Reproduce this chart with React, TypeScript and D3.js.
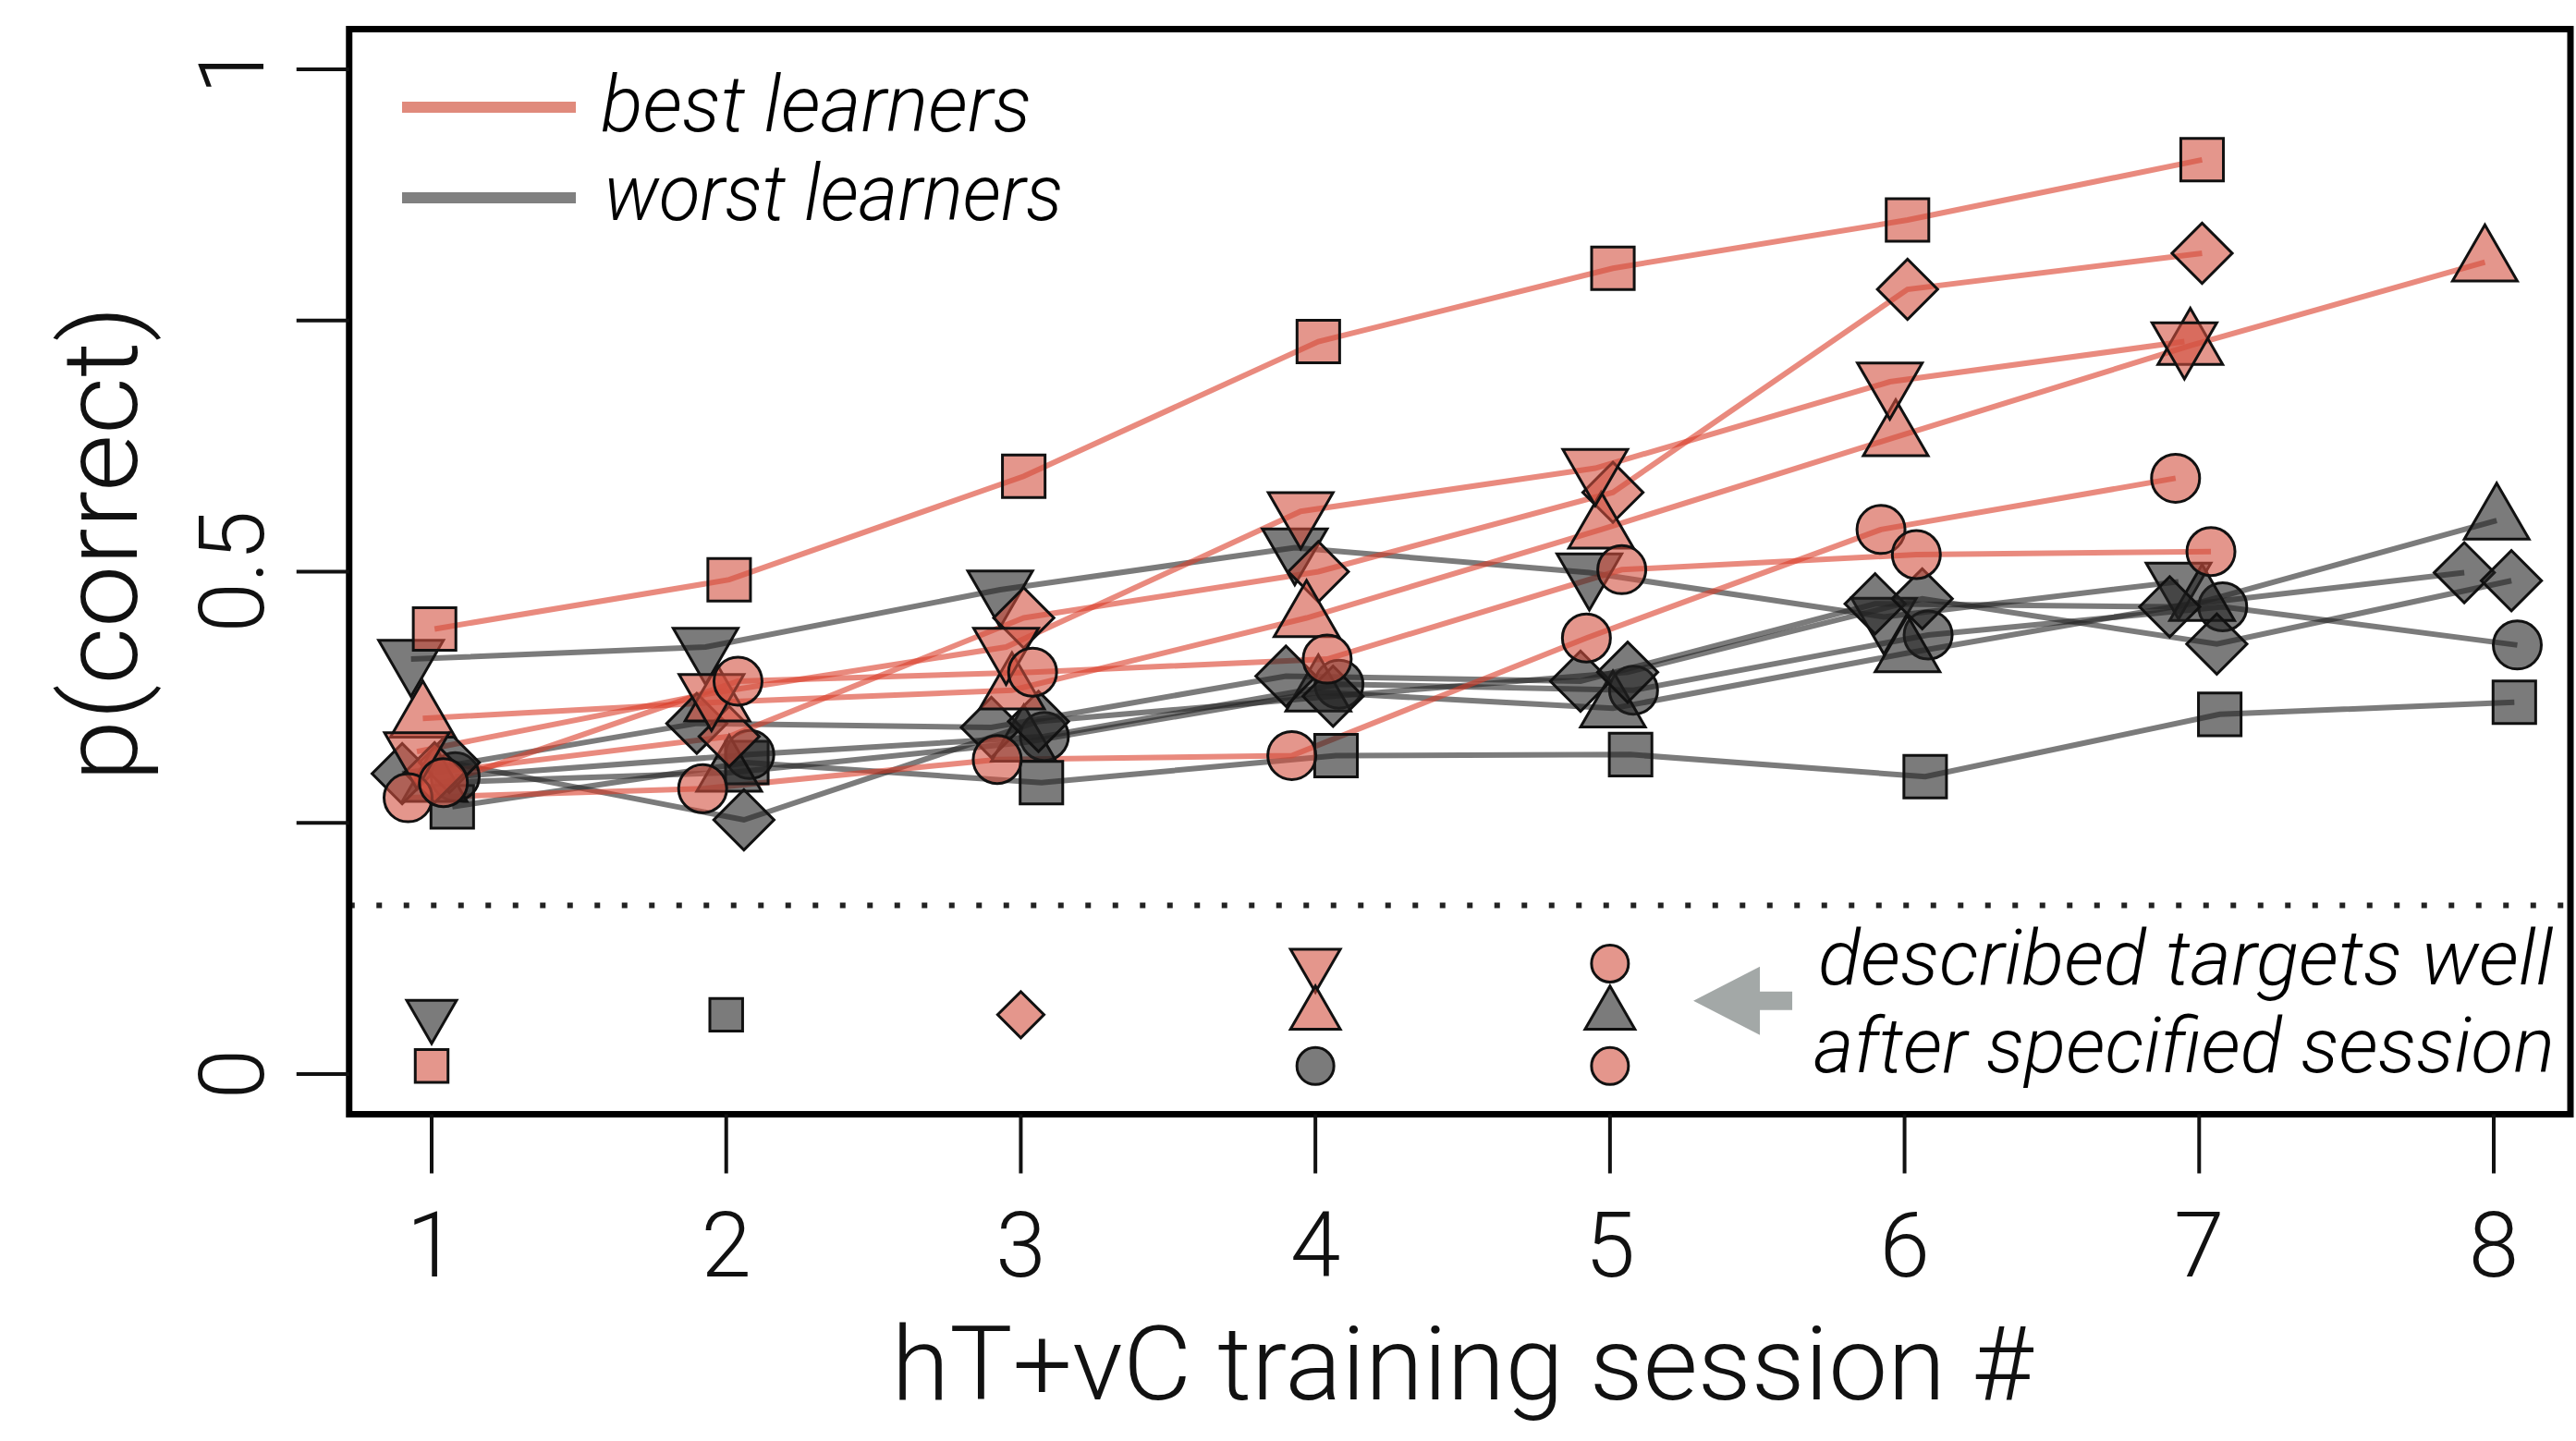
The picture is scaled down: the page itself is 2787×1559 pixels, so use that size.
import React from "react";
import * as d3 from "d3";

// sessions on the x axis
const sessions = [1, 2, 3, 4, 5, 6, 7, 8];

// p(correct) per session, best learners (red)
const bestSquare = [0.443, 0.492, 0.595, 0.729, 0.802, 0.85, 0.91];
const bestDiamond = [0.3, 0.336, 0.454, 0.5, 0.579, 0.781, 0.817];
const bestTriUp = [0.354, 0.37, 0.382, 0.454, 0.542, 0.634, 0.725, 0.808];
const bestTriDown = [0.321, 0.379, 0.425, 0.56, 0.603, 0.689, 0.729];
const bestCircleA = [0.275, 0.284, 0.313, 0.317, 0.434, 0.542, 0.593];
const bestCircleB = [0.29, 0.391, 0.4, 0.413, 0.502, 0.517, 0.52];

// p(correct) per session, worst learners (gray)
const worstTriDown = [0.413, 0.425, 0.482, 0.524, 0.499, 0.455, 0.49];
const worstSquare = [0.266, 0.31, 0.29, 0.317, 0.318, 0.296, 0.358, 0.37];
const worstCircle = [0.296, 0.318, 0.336, 0.388, 0.382, 0.437, 0.465, 0.427];
const worstTriUp = [0.29, 0.3, 0.33, 0.38, 0.364, 0.419, 0.47, 0.551];
const worstDiamondA = [0.299, 0.349, 0.345, 0.396, 0.391, 0.468, 0.465, 0.499];
const worstDiamondB = [0.31, 0.253, 0.351, 0.376, 0.4, 0.473, 0.428, 0.491];

// horizontal jitter of each learner, in session units
const bestJitter = [0.01, 0.01, -0.03, -0.05, -0.08, 0.04];
const worstJitter = [-0.07, 0.07, 0.08, 0.01, -0.1, 0.06];

// "described targets well after specified session" markers
const doneSession = [1, 1, 2, 3, 4, 4, 4, 5, 5, 5];
const doneGroup = ["worst", "best", "worst", "best", "best", "best", "worst", "best", "worst", "best"];
const doneShape = ["triDown", "square", "square", "diamond", "triDown", "triUp", "circle", "circle", "triUp", "circle"];
const doneValue = [0.059, 0.008, 0.059, 0.059, 0.11, 0.059, 0.008, 0.11, 0.059, 0.008];

const criterion = 0.168;
const yTicks = [0, 0.25, 0.5, 0.75, 1];
const yLabels = ["0", "", "0.5", "", "1"];

const series = [
  { group: "worst", shape: "triDown", values: worstTriDown, jitter: worstJitter[0] },
  { group: "worst", shape: "square", values: worstSquare, jitter: worstJitter[1] },
  { group: "worst", shape: "circle", values: worstCircle, jitter: worstJitter[2] },
  { group: "worst", shape: "triUp", values: worstTriUp, jitter: worstJitter[3] },
  { group: "worst", shape: "diamond", values: worstDiamondA, jitter: worstJitter[4] },
  { group: "worst", shape: "diamond", values: worstDiamondB, jitter: worstJitter[5] },
  { group: "best", shape: "square", values: bestSquare, jitter: bestJitter[0] },
  { group: "best", shape: "diamond", values: bestDiamond, jitter: bestJitter[1] },
  { group: "best", shape: "triUp", values: bestTriUp, jitter: bestJitter[2] },
  { group: "best", shape: "triDown", values: bestTriDown, jitter: bestJitter[3] },
  { group: "best", shape: "circle", values: bestCircleA, jitter: bestJitter[4] },
  { group: "best", shape: "circle", values: bestCircleB, jitter: bestJitter[5] },
];

const W = 2787;
const H = 1559;
const FONT = "Roboto, 'Liberation Sans', Arial, sans-serif";

const lineColor = { best: "rgba(218,60,40,0.6)", worst: "rgba(35,35,35,0.6)" };
const fillColor = { best: "rgba(210,80,63,0.6)", worst: "rgba(35,35,35,0.6)" };

const symbolPath = (shape, r) => {
  const area = Math.PI * r * r;
  const t = shape === "circle" ? d3.symbolCircle : shape.startsWith("tri") ? d3.symbolTriangle : d3.symbolSquare;
  return d3.symbol(t, area)();
};
const symbolRotate = (shape) => (shape === "triDown" ? 180 : shape === "diamond" ? 45 : 0);

const Marker = ({ cx, cy, shape, group, r }) => (
  <path
    d={symbolPath(shape, r)}
    transform={`translate(${cx},${cy}) rotate(${symbolRotate(shape)})`}
    fill={fillColor[group]}
    stroke="#111"
    strokeWidth={3}
    strokeLinejoin="miter"
  />
);

const App = () => {
  const x = d3.scaleLinear().domain([1, 8]).range([467, 2698]);
  const y = d3.scaleLinear().domain([0, 1]).range([1162, 75]);
  const x0 = x(0.72);
  const x1 = 2781;
  const y0 = y(1.04);
  const y1 = y(-0.04);

  const line = d3
    .line()
    .x((d) => d[0])
    .y((d) => d[1]);

  const pts = (s) => s.values.map((v, i) => [x(sessions[i] + s.jitter), y(v)]);

  // arrow pointing at the marker stack of session 5
  const tipX = x(5.283);
  const tipY = y(0.073);
  const arrow = `M${tipX},${tipY} L${tipX + 72},${tipY - 37} L${tipX + 72},${tipY - 10} L${tipX + 107},${tipY - 10} L${tipX + 107},${tipY + 10} L${tipX + 72},${tipY + 10} L${tipX + 72},${tipY + 37} Z`;

  return (
    <svg
      width={W}
      height={H}
      style={{ position: "absolute", left: 0, top: 0, background: "#fff" }}
      fontFamily={FONT}>
      <rect width={W} height={H} fill="#fff" />

      {/* criterion line */}
      <line
        x1={x0}
        x2={x1}
        y1={y(criterion)}
        y2={y(criterion)}
        stroke="#222"
        strokeWidth={6}
        strokeDasharray="6 23.5"
      />

      {/* learner lines */}
      {series.map((s, i) => (
        <path key={`l${i}`} d={line(pts(s))} fill="none" stroke={lineColor[s.group]} strokeWidth={6} />
      ))}
      {/* learner markers */}
      {series.map((s, i) =>
        pts(s).map((p, j) => (
          <Marker key={`m${i}-${j}`} cx={p[0]} cy={p[1]} shape={s.shape} group={s.group} r={26} />
        ))
      )}

      {/* described well markers */}
      {doneSession.map((s, i) => (
        <Marker key={`d${i}`} cx={x(s)} cy={y(doneValue[i])} shape={doneShape[i]} group={doneGroup[i]} r={20} />
      ))}

      <path d={arrow} fill="#a3a8a7" />
      <text x={2762} y={1065} textAnchor="end" fontSize={84} fontStyle="italic" fontWeight={300} textLength={795} lengthAdjust="spacingAndGlyphs">
        described targets well
      </text>
      <text x={2764} y={1160} textAnchor="end" fontSize={84} fontStyle="italic" fontWeight={300} textLength={802} lengthAdjust="spacingAndGlyphs">
        after specified session
      </text>

      {/* legend */}
      <line x1={435} x2={623} y1={116} y2={116} stroke="#e08a7c" strokeWidth={12} />
      <line x1={435} x2={623} y1={214} y2={214} stroke="#808080" strokeWidth={12} />
      <text x={650} y={142} fontSize={86} fontStyle="italic" fontWeight={300} textLength={466} lengthAdjust="spacingAndGlyphs">
        best learners
      </text>
      <text x={653} y={238} fontSize={86} fontStyle="italic" fontWeight={300} textLength={497} lengthAdjust="spacingAndGlyphs">
        worst learners
      </text>

      {/* box */}
      <rect x={x0} y={y0} width={x1 - x0} height={y1 - y0} fill="none" stroke="#000" strokeWidth={7} />

      {/* y axis */}
      {yTicks.map((t, i) => (
        <g key={`yt${i}`}>
          <line x1={x0 - 57} x2={x0} y1={y(t)} y2={y(t)} stroke="#111" strokeWidth={4} />
          {yLabels[i] && (
            <text
              transform={`translate(285,${y(t)}) rotate(-90)`}
              textAnchor="middle"
              fontSize={98}
              fontWeight={300}
              fill="#111">
              {yLabels[i]}
            </text>
          )}
        </g>
      ))}
      <text
        transform={`translate(148,588) rotate(-90)`}
        textAnchor="middle"
        fontSize={114}
        fontWeight={300}
        fill="#111"
        textLength={515}
        lengthAdjust="spacingAndGlyphs">
        p(correct)
      </text>

      {/* x axis */}
      {sessions.map((s) => (
        <g key={`xt${s}`}>
          <line x1={x(s)} x2={x(s)} y1={y1} y2={y1 + 64} stroke="#111" strokeWidth={4} />
          <text x={x(s)} y={1381} textAnchor="middle" fontSize={98} fontWeight={300} fill="#111">
            {s}
          </text>
        </g>
      ))}
      <text
        x={1582}
        y={1514}
        textAnchor="middle"
        fontSize={111}
        fontWeight={300}
        fill="#111"
        textLength={1235}
        lengthAdjust="spacingAndGlyphs">
        hT+vC training session #
      </text>
    </svg>
  );
};

export default App;
